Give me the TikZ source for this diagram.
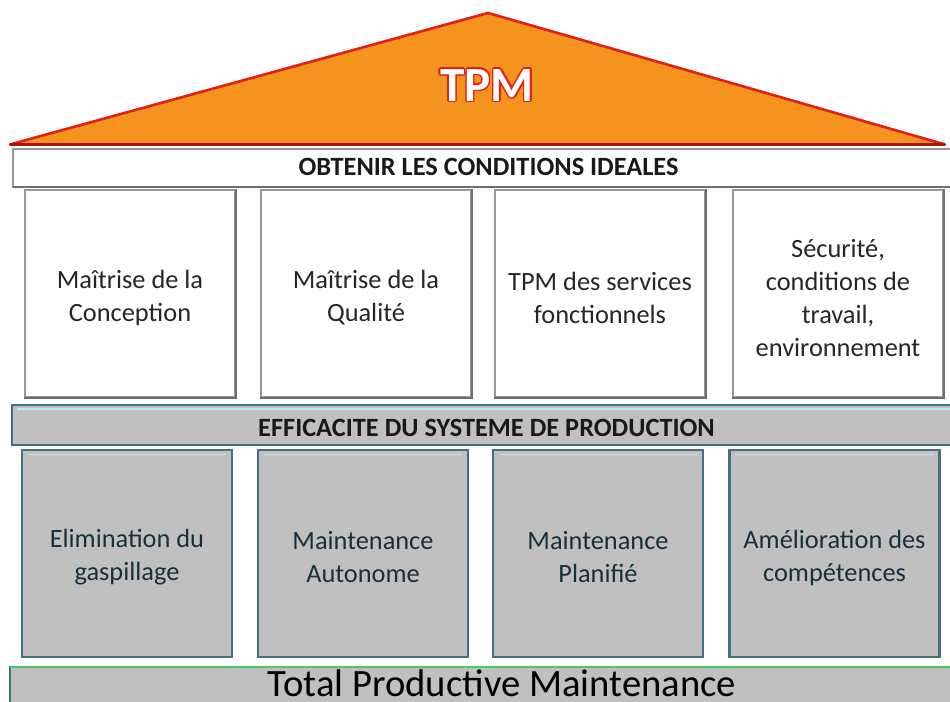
\documentclass[tikz,border=0pt]{standalone}
\usepackage{fontspec}
\setmainfont{Carlito}
\usepackage[copies]{contour}
\contourlength{0.8pt}

\definecolor{rooforange}{RGB}{244,148,30}
\definecolor{roofred}{RGB}{228,32,22}
\definecolor{roofbase}{RGB}{170,18,10}
\definecolor{boxline}{RGB}{150,150,150}
\definecolor{boxshade}{RGB}{110,110,110}
\definecolor{pillargray}{RGB}{192,192,192}
\definecolor{pillarline}{RGB}{70,112,128}
\definecolor{pillarlight}{RGB}{190,235,240}
\definecolor{pillartext}{RGB}{22,48,62}
\definecolor{basegreen}{RGB}{70,205,95}

\tikzset{
	whitebox/.style={draw=boxline, fill=white, line width=1pt, minimum width=4.2cm, minimum height=4.14cm},
	graybox/.style={draw=pillarline, fill=pillargray, line width=1.2pt, minimum width=4.2cm, minimum height=4.14cm},
	whitetext/.style={align=center, text=black!85, font=\fontsize{15}{18.8}\selectfont},
	graytext/.style={align=center, text=pillartext, font=\fontsize{15}{18.8}\selectfont},
	bandtitle/.style={font=\bfseries\fontsize{15}{17}\selectfont, text=black!90},
}

\begin{document}
\begin{tikzpicture}[scale=1]
	
	\clip (0, 0) rectangle (19, 14.04);
	%\draw[help lines] (0,0) grid (19,14);
	
	% roof
	\draw[fill=rooforange, draw=roofred, line width=1.5pt, line join=round] (0.2, 11.15) -- (9.76, 13.78) -- (18.9, 11.15) -- cycle;
	\draw[roofbase, line width=2pt] (0.2, 11.15) -- (18.9, 11.15);
	\node[font=\bfseries\fontsize{28}{30}\selectfont, text=white] (tpm) at (9.74, 12.32) {\contour{roofred}{TPM}};
	
	% OBTENIR band
	\draw[boxline, fill=white, line width=1pt] (0.26, 10.30) rectangle (19.3, 11.06);
	\draw[boxshade, line width=1.5pt] (0.26, 10.30) -- (19.3, 10.30);
	\node[bandtitle] (ideal) at (9.77, 10.70) {OBTENIR LES CONDITIONS IDEALES};
	
	% white pillars
	\node[whitebox] (conception) at (2.6, 8.17) {};
	\node[whitebox] (qualite) at (7.32, 8.17) {};
	\node[whitebox] (services) at (12.0, 8.17) {};
	\node[whitebox] (securite) at (16.76, 8.17) {};
	\foreach \n in {conception, qualite, services, securite}
		\draw[boxshade, line width=1.5pt] (\n.north east) -- (\n.south east) -- (\n.south west);
	\node[whitetext] at ([yshift=-0.09cm]conception) {Maîtrise de la\\Conception};
	\node[whitetext] at ([yshift=-0.09cm]qualite) {Maîtrise de la\\Qualité};
	\node[whitetext] at ([yshift=-0.09cm]services) {TPM des services\\fonctionnels};
	\node[whitetext] at ([yshift=-0.09cm]securite) {Sécurité,\\conditions de\\travail,\\environnement};
	
	% EFFICACITE band
	\draw[pillarline, fill=pillargray, line width=1.2pt] (0.24, 5.14) rectangle (19.3, 5.94);
	\draw[pillarlight, line width=0.6pt] (0.34, 5.86) -- (19.3, 5.86);
	\node[bandtitle] (efficacite) at (9.73, 5.48) {EFFICACITE DU SYSTEME DE PRODUCTION};
	
	% gray pillars
	\node[graybox] (gaspillage) at (2.54, 2.97) {};
	\node[graybox] (autonome) at (7.26, 2.97) {};
	\node[graybox] (planifie) at (11.96, 2.97) {};
	\node[graybox] (competences) at (16.69, 2.97) {};
	\foreach \n in {gaspillage, autonome, planifie, competences}
		\draw[pillarlight, line width=0.6pt] ([xshift=4pt, yshift=-3pt]\n.north west) -- ([xshift=-4pt, yshift=-3pt]\n.north east);
	\node[graytext] at ([yshift=-0.08cm]gaspillage) {Elimination du\\gaspillage};
	\node[graytext] at ([yshift=-0.08cm]autonome) {Maintenance\\Autonome};
	\node[graytext] at ([yshift=-0.08cm]planifie) {Maintenance\\Planifié};
	\node[graytext] at ([yshift=-0.08cm]competences) {Amélioration des\\compétences};
	
	% base
	\draw[fill=pillargray, draw=pillarline, line width=0.8pt] (0.2, -0.5) rectangle (19.3, 0.70);
	\draw[basegreen, line width=1.5pt] (0.2, 0.70) -- (19.3, 0.70);
	\node[font=\fontsize{22}{26}\selectfont, text=black, anchor=base] (tpmbase) at (10.04, 0.1) {Total Productive Maintenance};

\end{tikzpicture}
\end{document}
